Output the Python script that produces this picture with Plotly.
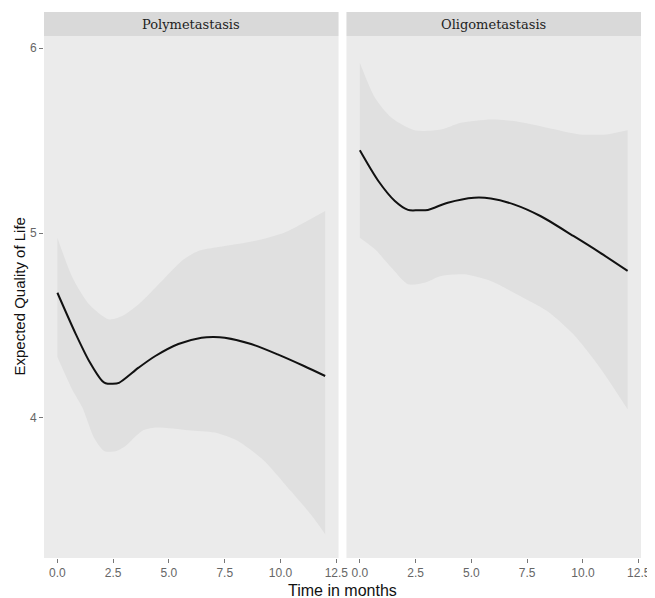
import plotly.graph_objects as go

# ---- data ----
poly_x = [0.0, 0.83, 1.42, 2.01, 2.16, 2.46, 2.76, 3.64, 4.39, 5.42, 6.46, 7.0, 7.5, 8.68, 9.87, 11.05, 12.0]
poly_y = [4.677, 4.452, 4.308, 4.20, 4.188, 4.185, 4.19, 4.272, 4.335, 4.40, 4.434, 4.438, 4.434, 4.40, 4.344, 4.281, 4.227]

poly_up_x = [0.0, 0.68, 1.42, 2.31, 2.90, 3.64, 4.68, 5.57, 6.31, 7.5, 8.83, 10.16, 11.05, 12.0]
poly_up_y = [4.975, 4.758, 4.615, 4.533, 4.551, 4.615, 4.741, 4.849, 4.903, 4.93, 4.957, 5.002, 5.056, 5.119]
poly_lo_x = [0.0, 0.68, 1.12, 1.64, 2.09, 2.6, 3.05, 3.79, 4.39, 5.87, 7.05, 8.09, 9.27, 10.46, 11.35, 12.0]
poly_lo_y = [4.33, 4.15, 4.056, 3.893, 3.822, 3.82, 3.849, 3.93, 3.948, 3.934, 3.921, 3.876, 3.768, 3.605, 3.479, 3.372]

oligo_x = [0.0, 0.83, 1.57, 2.16, 2.6, 3.05, 3.94, 5.12, 5.87, 6.9, 8.09, 9.57, 10.76, 12.0]
oligo_y = [5.447, 5.281, 5.173, 5.125, 5.123, 5.125, 5.164, 5.191, 5.187, 5.155, 5.092, 4.984, 4.894, 4.795]

oligo_up_x = [0.0, 0.68, 1.42, 2.46, 3.64, 4.53, 5.87, 6.9, 8.39, 9.87, 11.05, 12.0]
oligo_up_y = [5.921, 5.731, 5.623, 5.555, 5.56, 5.596, 5.614, 5.605, 5.569, 5.533, 5.533, 5.555]
oligo_lo_x = [0.0, 0.68, 1.42, 2.16, 2.9, 3.64, 4.68, 5.87, 7.05, 8.39, 9.57, 10.76, 12.0]
oligo_lo_y = [4.975, 4.912, 4.812, 4.723, 4.731, 4.768, 4.777, 4.741, 4.668, 4.578, 4.452, 4.272, 4.047]

panels = ["Polymetastasis", "Oligometastasis"]
x_ticks = [0.0, 2.5, 5.0, 7.5, 10.0, 12.5]
x_tick_text = ["0.0", "2.5", "5.0", "7.5", "10.0", "12.5"]
y_ticks = [4, 5, 6]

# ---- styling ----
PANEL_BG = "#EBEBEB"
RIBBON = "#E0E0E0"
STRIP = "#D9D9D9"
top_dom = 0.956

fig = go.Figure()

series = [
    (poly_x, poly_y, poly_up_x, poly_up_y, poly_lo_x, poly_lo_y, "x", "y"),
    (oligo_x, oligo_y, oligo_up_x, oligo_up_y, oligo_lo_x, oligo_lo_y, "x2", "y2"),
]
for lx, ly, ux, uy, dx, dy, xa, ya in series:
    fig.add_trace(go.Scatter(
        x=dx, y=dy, mode="lines", line=dict(width=0, color=RIBBON, shape="spline", smoothing=0.7),
        hoverinfo="skip", showlegend=False, xaxis=xa, yaxis=ya))
    fig.add_trace(go.Scatter(
        x=ux, y=uy, fill="tonexty", fillcolor=RIBBON, mode="lines",
        line=dict(width=0, color=RIBBON, shape="spline", smoothing=0.7),
        hoverinfo="skip", showlegend=False, xaxis=xa, yaxis=ya))
    fig.add_trace(go.Scatter(
        x=lx, y=ly, mode="lines", line=dict(color="#111111", width=2, shape="spline", smoothing=0.8),
        showlegend=False, xaxis=xa, yaxis=ya))

axis_common = dict(
    showgrid=False, zeroline=False, showline=False,
    ticklen=4, tickwidth=1, tickcolor="#777777",
    tickfont=dict(family="Liberation Sans, Arial", size=12, color="#666666"),
)
xr = [-0.6, 12.6]
yr = [3.243, 6.065]
fig.update_layout(
    width=647, height=590,
    margin=dict(l=36, r=9, t=4, b=40),
    paper_bgcolor="white", plot_bgcolor=PANEL_BG,
    xaxis=dict(domain=[0, 0.4934], range=xr, tickvals=x_ticks, ticktext=x_tick_text, anchor="y",
               ticks="outside", **axis_common),
    xaxis2=dict(domain=[0.5066, 1], range=xr, tickvals=x_ticks, ticktext=x_tick_text, anchor="y2",
                ticks="outside", **axis_common),
    yaxis=dict(domain=[0, top_dom], range=yr, tickvals=y_ticks, anchor="x", ticks="outside", **axis_common),
    yaxis2=dict(domain=[0, top_dom], range=yr, tickvals=y_ticks, anchor="x2", showticklabels=False,
                ticks="", **axis_common),
)

# strips
for (x0, x1), label in zip([(0, 0.4934), (0.5066, 1)], panels):
    fig.add_shape(type="rect", xref="paper", yref="paper", x0=x0, x1=x1, y0=top_dom, y1=1,
                  fillcolor=STRIP, line=dict(width=0), layer="below")
    fig.add_annotation(text=label, xref="paper", yref="paper", x=(x0 + x1) / 2, y=(top_dom + 1) / 2,
                       showarrow=False, font=dict(family="DejaVu Serif", size=13, color="#222222"),
                       xanchor="center", yanchor="middle")

# axis titles
fig.add_annotation(text="Time in months", xref="paper", yref="paper", x=0.5, y=0, yshift=-22,
                   showarrow=False, yanchor="top", xanchor="center",
                   font=dict(family="Liberation Sans, Arial", size=16, color="#111111"))
fig.add_annotation(text="Expected Quality of Life", xref="paper", yref="paper", x=0, xshift=-14,
                   y=top_dom / 2, textangle=-90, showarrow=False, xanchor="right", yanchor="middle",
                   font=dict(family="Liberation Sans, Arial", size=15, color="#111111"))

fig.write_html("out.html")
